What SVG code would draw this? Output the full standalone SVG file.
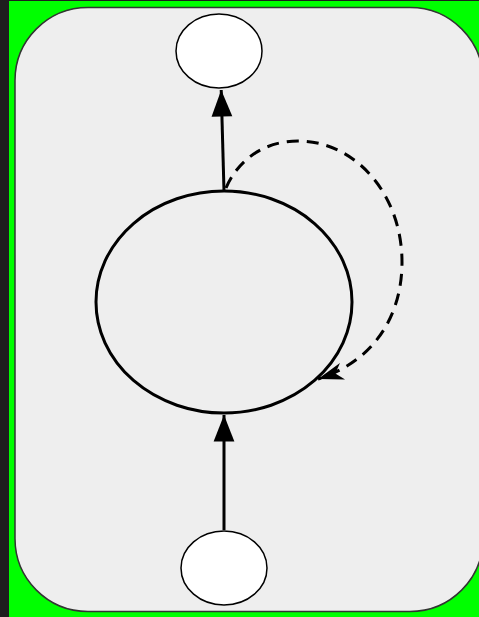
<svg xmlns="http://www.w3.org/2000/svg" width="479" height="617" viewBox="0 0 479 617">
<style>
.node{fill:#fff;stroke:#000;stroke-width:1.5}
.big{fill:none;stroke:#000;stroke-width:3}
.edge{fill:none;stroke:#000;stroke-width:3}
.dash{fill:none;stroke:#000;stroke-width:3;stroke-dasharray:12 8}
</style>
<defs>
<marker id="tri" markerUnits="userSpaceOnUse" markerWidth="30" markerHeight="30" viewBox="-24 -10 26 20" refX="0" refY="0" orient="auto">
<path d="M0,0 L-23,-9 L-23,9 Z" fill="#000"/>
</marker>
<marker id="open" markerUnits="userSpaceOnUse" markerWidth="30" markerHeight="30" viewBox="-26 -12 28 24" refX="0" refY="0" orient="auto">
<path d="M0,0 L-24,-8 L-17,0 L-24,8 Z" fill="#000"/>
</marker>
</defs>
<rect x="0" y="0" width="479" height="617" fill="#1e1e1e"/>
<rect x="9" y="1" width="470" height="616" fill="#00ff00"/>
<rect x="15" y="7.5" width="468" height="604" rx="73" ry="73" fill="#eeeeee" stroke="#333333" stroke-width="1.5"/>
<g id="connectors">
<path class="edge" d="M224,191 L221.2,90" marker-end="url(#tri)"/>
<path class="edge" d="M224,530 L224,415" marker-end="url(#tri)"/>
<path class="dash" d="M226,188 C238,160 264,141 298,141 C356,141 402,195 402,262 C402,318 372,362 318,379" marker-end="url(#open)"/>
</g>
<g id="node-top"><ellipse class="node" cx="219" cy="51" rx="43" ry="37"/></g>
<g id="node-main"><ellipse class="big" cx="224" cy="302" rx="128" ry="111"/></g>
<g id="node-bottom"><ellipse class="node" cx="224" cy="568" rx="43" ry="37"/></g>
</svg>
